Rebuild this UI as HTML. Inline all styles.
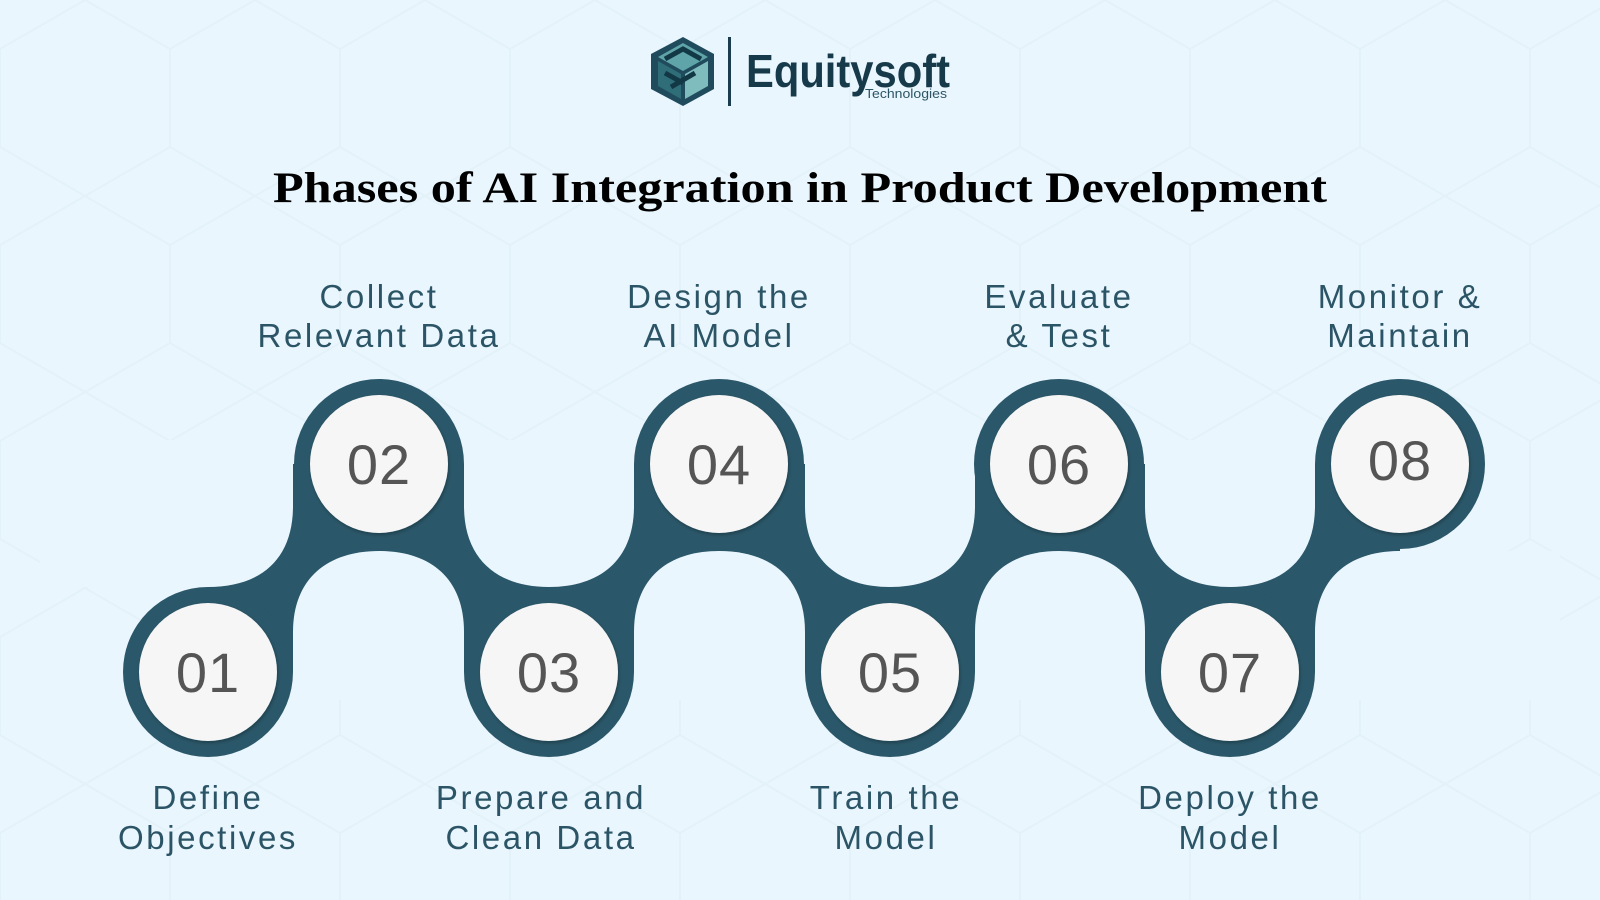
<!DOCTYPE html>
<html><head><meta charset="utf-8"><style>
html,body{margin:0;padding:0;background:#eaf6fd;}
svg{display:block}
.lbl{font-family:"Liberation Sans",sans-serif;font-size:33px;fill:#2b5566;text-anchor:middle;letter-spacing:2.6px}
.num{font-family:"Liberation Sans",sans-serif;font-size:56px;fill:#555;text-anchor:middle;letter-spacing:1px}
</style></head><body>
<svg width="1600" height="900" viewBox="0 0 1600 900" xmlns="http://www.w3.org/2000/svg">
<defs>
<filter id="sh" x="-20%" y="-20%" width="140%" height="140%"><feDropShadow dx="1" dy="2" stdDeviation="1.5" flood-color="#000" flood-opacity="0.25"/></filter>
<pattern id="hex" width="170" height="196" patternUnits="userSpaceOnUse">
<path d="M0 49 L85 0 L170 49 M85 0 L85 -50 M0 49 L0 147 L85 196 L170 147 L170 49 M85 196 L85 250" fill="none" stroke="#dfeef6" stroke-width="2"/>
</pattern>
</defs>
<rect width="1600" height="900" fill="#eaf6fd"/>
<rect width="1600" height="900" fill="url(#hex)" opacity="0.6"/>

<!-- logo -->
<g transform="translate(651,37)">
<polygon points="32,0 63,17 63,52 32,69 0,52 0,17" fill="#1f4b5c"/>
<polygon points="32,6 57,20 32,34 7,20" fill="#5fa4a8"/>
<polygon points="7,24 30,37 30,62 7,49" fill="#2f6d78"/>
<polygon points="34,37 57,24 57,49 34,62" fill="#7fbcbe"/>
<path d="M14 22 L32 12 L50 22 M14 36 L32 46 M20 50 L44 36" stroke="#123846" stroke-width="5" fill="none"/>
</g>
<rect x="728" y="37" width="3" height="69" fill="#1a3c4c"/>
<text x="746" y="87" font-family="Liberation Sans,sans-serif" font-weight="bold" font-size="46" fill="#173a4a" textLength="204" lengthAdjust="spacingAndGlyphs">Equitysoft</text>
<text x="865" y="98" font-family="Liberation Sans,sans-serif" font-size="13" fill="#2b5566" textLength="82" lengthAdjust="spacingAndGlyphs">Technologies</text>

<!-- title -->
<text x="800" y="202" text-anchor="middle" font-family="Liberation Serif,serif" font-weight="bold" font-size="43" fill="#000" textLength="1054" lengthAdjust="spacingAndGlyphs">Phases of AI Integration in Product Development</text>

<!-- connector band -->
<g fill="#2a5769">
<rect x="208" y="464" width="1192" height="208"/>
</g>
<g fill="#eaf6fd">
<path d="M40 440 L293 440 L293 506 C293 560 260 587 208 587 L40 587 Z"/>
<path d="M464 440 L634 440 L634 506 C634 560 600 587 549 587 C498 587 464 560 464 506 Z"/>
<path d="M805 440 L975 440 L975 506 C975 560 941 587 890 587 C839 587 805 560 805 506 Z"/>
<path d="M1145 440 L1315 440 L1315 506 C1315 560 1281 587 1230 587 C1179 587 1145 560 1145 506 Z"/>
<path d="M293 700 L464 700 L464 632 C464 578 430 551 379 551 C328 551 293 578 293 632 Z"/>
<path d="M634 700 L805 700 L805 632 C805 578 771 551 719 551 C668 551 634 578 634 632 Z"/>
<path d="M975 700 L1145 700 L1145 632 C1145 578 1111 551 1059 551 C1008 551 975 578 975 632 Z"/>
<path d="M1315 700 L1560 700 L1560 551 L1400 551 C1349 551 1315 578 1315 632 Z"/>
</g>
<g fill="#2a5769">
<circle cx="208" cy="672" r="85"/><circle cx="379" cy="464" r="85"/>
<circle cx="549" cy="672" r="85"/><circle cx="719" cy="464" r="85"/>
<circle cx="890" cy="672" r="85"/><circle cx="1059" cy="464" r="85"/>
<circle cx="1230" cy="672" r="85"/><circle cx="1400" cy="464" r="85"/>
</g>
<g fill="#f6f6f6" filter="url(#sh)">
<circle cx="208" cy="672" r="69"/><circle cx="379" cy="464" r="69"/>
<circle cx="549" cy="672" r="69"/><circle cx="719" cy="464" r="69"/>
<circle cx="890" cy="672" r="69"/><circle cx="1059" cy="464" r="69"/>
<circle cx="1230" cy="672" r="69"/><circle cx="1400" cy="464" r="69"/>
</g>
<g class="num">
<text x="208" y="692">01</text><text x="379" y="484">02</text>
<text x="549" y="692">03</text><text x="719" y="484">04</text>
<text x="890" y="692">05</text><text x="1059" y="484">06</text>
<text x="1230" y="692">07</text><text x="1400" y="480">08</text>
</g>

<g class="lbl">
<text x="379" y="308">Collect</text><text x="379" y="347">Relevant Data</text>
<text x="719" y="308">Design the</text><text x="719" y="347">AI Model</text>
<text x="1059" y="308">Evaluate</text><text x="1059" y="347">&amp; Test</text>
<text x="1400" y="308">Monitor &amp;</text><text x="1400" y="347">Maintain</text>
<text x="208" y="809">Define</text><text x="208" y="849">Objectives</text>
<text x="541" y="809">Prepare and</text><text x="541" y="849">Clean Data</text>
<text x="886" y="809">Train the</text><text x="886" y="849">Model</text>
<text x="1230" y="809">Deploy the</text><text x="1230" y="849">Model</text>
</g>
</svg>
</body></html>
